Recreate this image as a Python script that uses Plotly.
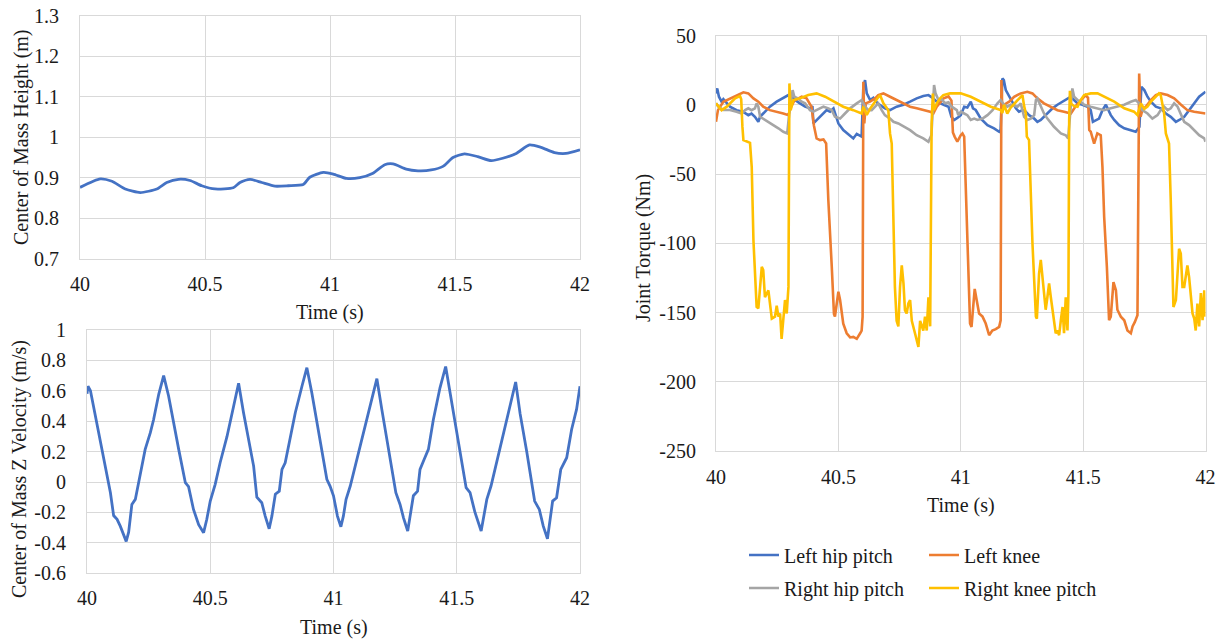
import plotly.graph_objects as go

# ---------------- data ----------------
# centre-of-mass height (m)
com_h_t = [40.0, 40.081, 40.128, 40.181, 40.241, 40.307, 40.347, 40.394, 40.44, 40.487, 40.54,
           40.613, 40.64, 40.68, 40.727, 40.78, 40.833, 40.893, 40.919, 40.973, 41.013, 41.066,
           41.119, 41.172, 41.219, 41.252, 41.305, 41.352, 41.405, 41.452, 41.492, 41.538, 41.591,
           41.645, 41.691, 41.745, 41.798, 41.844, 41.898, 41.944, 42.0]
com_h_v = [0.876, 0.897, 0.891, 0.872, 0.863, 0.872, 0.888, 0.896, 0.893, 0.880, 0.872,
           0.875, 0.888, 0.896, 0.888, 0.879, 0.880, 0.883, 0.901, 0.913, 0.909, 0.898,
           0.900, 0.911, 0.932, 0.934, 0.921, 0.917, 0.919, 0.928, 0.950, 0.959, 0.952,
           0.942, 0.948, 0.960, 0.981, 0.975, 0.962, 0.960, 0.969]

# centre-of-mass vertical velocity (m/s)
com_vz_t = [40.0, 40.004, 40.014, 40.034, 40.054, 40.074, 40.095, 40.108, 40.122, 40.135, 40.159,
            40.169, 40.182, 40.196, 40.216, 40.236, 40.257, 40.27, 40.291, 40.311, 40.331, 40.351,
            40.372, 40.399, 40.412, 40.432, 40.453, 40.473, 40.486, 40.5, 40.52, 40.54, 40.568,
            40.595, 40.615, 40.635, 40.655, 40.676, 40.689, 40.709, 40.723, 40.739, 40.75, 40.764,
            40.78, 40.791, 40.804, 40.824, 40.845, 40.872, 40.892, 40.912, 40.939, 40.973, 40.986,
            41.0, 41.016, 41.03, 41.04, 41.051, 41.068, 41.095, 41.122, 41.149, 41.176, 41.196,
            41.216, 41.236, 41.253, 41.27, 41.284, 41.301, 41.311, 41.324, 41.341, 41.351, 41.368,
            41.385, 41.405, 41.432, 41.455, 41.473, 41.5, 41.52, 41.538, 41.554, 41.574, 41.599,
            41.611, 41.622, 41.639, 41.662, 41.689, 41.716, 41.739, 41.757, 41.784, 41.816, 41.835,
            41.851, 41.868, 41.878, 41.889, 41.905, 41.922, 41.946, 41.966, 41.986, 42.0]
com_vz_v = [0.58, 0.63, 0.60, 0.43, 0.28, 0.105, -0.07, -0.22, -0.245, -0.29, -0.39,
            -0.33, -0.147, -0.114, 0.04, 0.215, 0.325, 0.41, 0.577, 0.70, 0.566, 0.39,
            0.215, -0.004, -0.03, -0.18, -0.28, -0.333, -0.245, -0.125, -0.015, 0.127, 0.30,
            0.50, 0.65, 0.456, 0.28, 0.105, -0.10, -0.136, -0.224, -0.307, -0.224, -0.08,
            -0.06, 0.083, 0.127, 0.29, 0.456, 0.63, 0.752, 0.588, 0.325, 0.018, -0.026,
            -0.09, -0.224, -0.294, -0.224, -0.114, -0.026, 0.15, 0.325, 0.50, 0.68, 0.478,
            0.28, 0.105, -0.07, -0.147, -0.235, -0.322, -0.224, -0.09, -0.06, 0.083, 0.15,
            0.215, 0.41, 0.62, 0.76, 0.588, 0.325, 0.127, -0.037, -0.07, -0.20, -0.322,
            -0.224, -0.114, -0.026, 0.127, 0.30, 0.50, 0.658, 0.45, 0.20, -0.125, -0.18,
            -0.29, -0.373, -0.268, -0.125, -0.103, 0.083, 0.16, 0.346, 0.478, 0.63]

# joint torques (Nm)
lhp_t = [40.0, 40.005, 40.012, 40.023, 40.03, 40.044, 40.057, 40.084, 40.11, 40.132, 40.145, 40.159,
         40.173, 40.18, 40.193, 40.22, 40.248, 40.275, 40.296, 40.31, 40.323, 40.343, 40.364, 40.384,
         40.394, 40.398, 40.411, 40.43, 40.452, 40.466, 40.48, 40.49, 40.5, 40.52, 40.548, 40.561,
         40.575, 40.595, 40.602, 40.609, 40.616, 40.63, 40.643, 40.66, 40.69, 40.711, 40.738, 40.766,
         40.793, 40.82, 40.847, 40.868, 40.885, 40.902, 40.93, 40.95, 40.962, 40.973, 40.986, 41.0,
         41.014, 41.027, 41.041, 41.05, 41.061, 41.082, 41.109, 41.136, 41.157, 41.163, 41.17, 41.176,
         41.184, 41.198, 41.211, 41.225, 41.238, 41.252, 41.265, 41.279, 41.3, 41.313, 41.327, 41.34,
         41.354, 41.375, 41.395, 41.416, 41.436, 41.45, 41.463, 41.477, 41.497, 41.518, 41.531, 41.54,
         41.565, 41.579, 41.593, 41.6, 41.613, 41.627, 41.647, 41.668, 41.695, 41.715, 41.73, 41.738,
         41.75, 41.763, 41.777, 41.797, 41.817, 41.838, 41.858, 41.879, 41.893, 41.913, 41.933, 41.954,
         41.974, 42.0]
lhp_v = [8.2, 11.8, 5.8, 2.2, 4.0, 1.0, -1.4, -3.9, -5.0, -7.5, -6.3, -8.7,
         -12.3, -8.7, -6.3, -1.4, 2.2, 4.6, 7.0, 5.8, 3.4, 1.0, -1.4, -2.6,
         -1.0, -13.5, -11.0, -7.5, -3.9, -5.0, -2.6, -8.0, -13.5, -18.3, -22.0, -24.3,
         -21.0, -23.0, 13.0, 17.8, 8.2, 3.4, 5.0, 1.0, -2.6, -3.9, -1.4, 0.0,
         2.2, 4.6, 6.3, 7.0, 5.0, 2.2, 0.0, -1.4, -8.7, -11.0, -9.5, -7.5,
         -1.4, -2.0, 2.2, -2.6, -3.8, -10.0, -14.7, -17.0, -19.5, -18.0, 19.0, 17.8,
         10.6, 5.8, 2.2, -2.6, -5.0, -3.9, -5.0, -7.5, -10.0, -12.3, -11.0, -8.7,
         -6.3, -2.6, 0.0, 2.2, 4.6, 5.8, 3.4, 1.0, 0.0, -1.4, -3.9, -12.3,
         -10.0, -3.9, 0.0, -2.6, -7.5, -11.0, -14.7, -17.0, -18.3, -19.5, -16.0, 13.0,
         10.6, 5.8, 2.2, -1.4, -2.6, -6.3, -8.7, -12.3, -11.0, -8.7, -3.9, 1.0,
         5.8, 9.4]

lk_t = [40.0, 40.008, 40.03, 40.057, 40.084, 40.112, 40.132, 40.153, 40.173, 40.193, 40.22, 40.248,
        40.275, 40.296, 40.305, 40.32, 40.35, 40.37, 40.39, 40.4, 40.411, 40.425, 40.439, 40.45,
        40.459, 40.473, 40.482, 40.486, 40.5, 40.507, 40.52, 40.534, 40.548, 40.561, 40.575, 40.589,
        40.595, 40.599, 40.602, 40.606, 40.612, 40.629, 40.65, 40.663, 40.684, 40.711, 40.738, 40.766,
        40.793, 40.82, 40.847, 40.875, 40.888, 40.902, 40.93, 40.95, 40.962, 40.968, 40.975, 40.986,
        41.0, 41.007, 41.014, 41.02, 41.027, 41.034, 41.038, 41.044, 41.052, 41.057, 41.065, 41.075,
        41.089, 41.102, 41.116, 41.129, 41.143, 41.157, 41.163, 41.166, 41.17, 41.177, 41.198, 41.218,
        41.245, 41.272, 41.293, 41.313, 41.34, 41.368, 41.395, 41.422, 41.45, 41.47, 41.49, 41.51,
        41.52, 41.525, 41.531, 41.545, 41.558, 41.572, 41.579, 41.586, 41.597, 41.606, 41.613, 41.624,
        41.634, 41.64, 41.654, 41.668, 41.681, 41.695, 41.702, 41.711, 41.722, 41.729, 41.735, 41.742,
        41.756, 41.777, 41.797, 41.817, 41.845, 41.872, 41.9, 41.926, 41.954, 41.981, 42.0]
lk_v = [-12.3, -3.9, 2.2, 4.6, 7.0, 9.0, 8.2, 4.6, 2.2, -1.4, -3.9, -5.0,
        -6.3, -7.5, -2.0, 3.0, 5.8, 4.6, -1.4, -15.0, -24.3, -25.5, -25.0, -28.0,
        -69.0, -117.0, -151.0, -153.0, -135.0, -141.0, -158.0, -165.0, -168.0, -167.6, -169.0, -165.0,
        -163.0, -153.0, 16.6, -13.5, 1.0, 2.2, 4.6, 7.0, 8.2, 5.8, 3.4, 1.0,
        -1.4, -2.6, -3.8, -5.0, -6.3, -1.4, 4.6, 6.0, 3.0, -20.0, -23.0, -26.7,
        -22.0, -20.7, -23.0, -57.0, -93.0, -136.0, -158.0, -160.4, -141.0, -133.0, -141.0, -150.7,
        -153.0, -158.0, -166.4, -163.0, -162.0, -160.4, -155.6, 17.9, -3.9, 0.0, 2.2, 5.8,
        8.2, 9.4, 8.2, 4.6, 1.0, -1.4, -3.9, -5.0, -6.3, -1.0, 3.4, 7.0,
        5.0, -18.3, -19.5, -28.0, -20.7, -22.0, -45.0, -81.0, -117.0, -155.6, -153.0, -128.0,
        -134.0, -148.0, -153.0, -155.6, -163.0, -165.0, -160.0, -157.0, -152.0, 22.6, -8.7, -3.9,
        -1.4, 3.4, 7.0, 8.2, 7.0, 4.6, 0.0, -3.9, -5.0, -5.8, -6.3]

rhp_t = [40.0, 40.01, 40.03, 40.057, 40.084, 40.105, 40.119, 40.132, 40.145, 40.159, 40.166, 40.173,
         40.18, 40.193, 40.214, 40.234, 40.255, 40.275, 40.291, 40.3, 40.313, 40.32, 40.334, 40.35,
         40.364, 40.384, 40.398, 40.411, 40.439, 40.459, 40.473, 40.486, 40.507, 40.527, 40.548, 40.575,
         40.595, 40.609, 40.623, 40.636, 40.65, 40.663, 40.677, 40.69, 40.711, 40.725, 40.745, 40.772,
         40.793, 40.82, 40.847, 40.868, 40.88, 40.891, 40.897, 40.909, 40.922, 40.936, 40.95, 40.963,
         40.984, 40.99, 41.0, 41.014, 41.027, 41.041, 41.055, 41.068, 41.089, 41.109, 41.13, 41.15,
         41.163, 41.177, 41.19, 41.204, 41.232, 41.245, 41.259, 41.272, 41.286, 41.3, 41.307, 41.313,
         41.327, 41.34, 41.354, 41.368, 41.381, 41.395, 41.409, 41.429, 41.439, 41.45, 41.456, 41.463,
         41.477, 41.49, 41.504, 41.531, 41.559, 41.586, 41.613, 41.64, 41.668, 41.695, 41.715, 41.729,
         41.742, 41.763, 41.783, 41.804, 41.817, 41.831, 41.845, 41.858, 41.872, 41.886, 41.9, 41.913,
         41.933, 41.954, 41.974, 41.995, 42.0]
rhp_v = [1.0, -1.4, -3.8, -3.8, -5.0, -6.3, -3.9, -2.6, -3.9, -2.6, 1.0, -1.4,
         -8.7, -10.0, -12.3, -14.7, -17.0, -19.5, -20.7, -5.0, 10.6, 5.8, 4.6, 2.2,
         1.0, -3.9, -5.0, -3.9, -1.4, -2.6, -3.9, -8.7, -10.0, -6.3, -2.6, 1.0,
         3.4, -1.4, -3.9, -3.9, -1.4, 1.0, -3.9, -7.5, -10.0, -12.3, -13.5, -15.9,
         -18.3, -22.0, -24.3, -26.7, -22.0, 14.2, 8.2, 3.4, 4.0, 1.0, 1.8, -1.4,
         -3.9, -7.5, -5.0, -6.3, -7.5, -11.0, -10.0, -11.0, -10.0, -7.5, -3.9, 1.0,
         3.4, 0.0, -1.4, 0.0, -1.4, 1.0, -8.7, -11.0, -10.0, -7.5, 3.4, 4.6,
         -1.4, -6.3, -10.0, -13.5, -15.9, -18.3, -20.7, -22.0, -24.3, 0.0, 11.8, 5.8,
         3.4, 2.2, 0.0, -1.4, -2.6, -3.9, -2.6, -1.4, 0.0, 2.2, 3.4, 1.0,
         -3.9, -6.3, -10.0, -7.5, -3.9, -1.4, -3.9, -2.6, 1.0, -1.4, -7.5, -12.3,
         -14.7, -18.3, -22.0, -24.3, -26.7]

rk_t = [40.0, 40.01, 40.023, 40.044, 40.057, 40.078, 40.098, 40.103, 40.108, 40.112, 40.139, 40.146,
        40.153, 40.166, 40.173, 40.187, 40.193, 40.2, 40.214, 40.228, 40.241, 40.248, 40.255, 40.262,
        40.268, 40.275, 40.282, 40.289, 40.296, 40.3, 40.305, 40.316, 40.343, 40.377, 40.411, 40.446,
        40.48, 40.52, 40.561, 40.595, 40.602, 40.616, 40.629, 40.643, 40.657, 40.67, 40.684, 40.704,
        40.711, 40.718, 40.725, 40.731, 40.738, 40.745, 40.752, 40.759, 40.766, 40.772, 40.779, 40.786,
        40.793, 40.8, 40.813, 40.82, 40.827, 40.834, 40.847, 40.854, 40.861, 40.868, 40.875, 40.881,
        40.886, 40.89, 40.902, 40.916, 40.929, 40.956, 41.0, 41.041, 41.082, 41.123, 41.163, 41.17,
        41.177, 41.19, 41.204, 41.232, 41.245, 41.252, 41.259, 41.266, 41.27, 41.279, 41.293, 41.307,
        41.311, 41.32, 41.327, 41.334, 41.347, 41.354, 41.361, 41.368, 41.381, 41.388, 41.395, 41.402,
        41.409, 41.416, 41.422, 41.429, 41.436, 41.44, 41.443, 41.446, 41.45, 41.463, 41.477, 41.49,
        41.504, 41.531, 41.559, 41.586, 41.627, 41.668, 41.708, 41.722, 41.736, 41.75, 41.763, 41.777,
        41.797, 41.81, 41.817, 41.831, 41.838, 41.851, 41.858, 41.869, 41.879, 41.892, 41.899, 41.906,
        41.913, 41.926, 41.933, 41.94, 41.947, 41.954, 41.96, 41.967, 41.974, 41.981, 41.988, 41.995,
        42.0]
rk_v = [1.0, -1.4, -3.9, -1.4, 1.0, 4.6, 6.3, 3.9, -16.0, -25.5, -27.5, -45.0,
        -98.0, -146.0, -147.0, -117.0, -119.4, -139.0, -134.0, -154.4, -153.0, -145.0, -153.0, -150.7,
        -169.0, -153.0, -141.0, -150.7, -131.5, 15.4, -3.9, 3.4, 4.6, 7.0, 8.2, 5.8,
        2.2, -1.4, -3.9, -6.3, -1.4, -7.4, -3.0, 1.0, 4.0, 7.0, 1.0, -3.9,
        -20.7, -28.0, -100.0, -131.5, -156.0, -160.0, -131.5, -116.0, -129.0, -148.3, -150.7, -143.5,
        -141.0, -156.0, -165.0, -170.0, -174.8, -156.0, -163.0, -153.0, -163.0, -139.0, -160.0, -13.5,
        8.0, -3.9, 1.0, 4.6, 7.0, 8.2, 8.2, 5.8, 2.2, -1.4, -3.8, -6.0,
        0.0, -6.3, -2.0, 3.4, 5.8, 7.0, -1.0, -6.3, -23.0, -25.5, -100.0, -153.0,
        -154.4, -122.0, -112.0, -126.7, -148.0, -139.0, -129.0, -139.0, -155.6, -165.0, -163.0, -166.4,
        -155.6, -146.0, -165.0, -139.0, -163.0, -136.0, -11.0, 10.0, 1.0, -1.0, -1.4, 3.4,
        7.0, 8.2, 8.2, 5.8, 2.2, -2.6, -5.0, -7.5, 1.0, -3.0, -1.4, 2.2,
        5.8, 8.2, 7.0, -6.3, -20.7, -28.0, -69.0, -146.0, -141.0, -104.0, -107.4, -131.5,
        -131.5, -116.0, -124.4, -136.0, -150.7, -154.4, -163.0, -143.5, -160.0, -136.0, -155.6, -134.0,
        -153.0]

# axis ticks
time_ticks = [40, 40.5, 41, 41.5, 42]
time_labels = ["40", "40.5", "41", "41.5", "42"]
h_ticks = [0.7, 0.8, 0.9, 1.0, 1.1, 1.2, 1.3]
h_labels = ["0.7", "0.8", "0.9", "1", "1.1", "1.2", "1.3"]
vz_ticks = [-0.6, -0.4, -0.2, 0, 0.2, 0.4, 0.6, 0.8, 1.0]
vz_labels = ["-0.6", "-0.4", "-0.2", "0", "0.2", "0.4", "0.6", "0.8", "1"]
tq_ticks = [-250, -200, -150, -100, -50, 0, 50]
tq_labels = ["-250", "-200", "-150", "-100", "-50", "0", "50"]

# ---------------- styling ----------------
W, H = 1225, 643
FONT = "Liberation Serif"
TXT = "#1a1a1a"
GRID = "#d9d9d9"
BLUE, ORANGE, GRAY, YELLOW = "#4472C4", "#ED7D31", "#A5A5A5", "#FFC000"


def px_x(x):
    return x / W


def px_y(y):
    return 1 - y / H


fig = go.Figure()

fig.add_trace(go.Scatter(x=com_h_t, y=com_h_v, mode="lines",
                         line=dict(color=BLUE, width=2.8, shape="spline", smoothing=0.6),
                         xaxis="x", yaxis="y", showlegend=False))
fig.add_trace(go.Scatter(x=com_vz_t, y=com_vz_v, mode="lines", line=dict(color=BLUE, width=2.8),
                         xaxis="x2", yaxis="y2", showlegend=False))

torque_series = [
    ("Left hip pitch", lhp_t, lhp_v, BLUE, "legend"),
    ("Left knee", lk_t, lk_v, ORANGE, "legend2"),
    ("Right hip pitch", rhp_t, rhp_v, GRAY, "legend3"),
    ("Right knee pitch", rk_t, rk_v, YELLOW, "legend4"),
]
for name, t, v, c, lg in torque_series:
    fig.add_trace(go.Scatter(x=t, y=v, mode="lines", name=name, line=dict(color=c, width=2.6),
                             xaxis="x3", yaxis="y3", legend=lg))


def xaxis(domain, anchor, ticklen):
    return dict(domain=domain, anchor=anchor, range=[40, 42], tickvals=time_ticks, ticktext=time_labels,
                showgrid=True, gridcolor=GRID, gridwidth=1, zeroline=False, automargin=False,
                showline=True, linecolor=GRID, linewidth=1, mirror=True,
                ticks="outside", ticklen=ticklen, tickcolor="rgba(0,0,0,0)",
                tickfont=dict(family=FONT, size=20, color=TXT), fixedrange=True)


def yaxis(domain, anchor, rng, vals, labels, ticklen):
    return dict(domain=domain, anchor=anchor, range=rng, tickvals=vals, ticktext=labels,
                showgrid=True, gridcolor=GRID, gridwidth=1, zeroline=False, automargin=False,
                showline=True, linecolor=GRID, linewidth=1, mirror=True,
                ticks="outside", ticklen=ticklen, tickcolor="rgba(0,0,0,0)",
                tickfont=dict(family=FONT, size=20, color=TXT), fixedrange=True)


legend_common = dict(font=dict(family=FONT, size=20, color=TXT), bgcolor="rgba(0,0,0,0)",
                     xanchor="left", yanchor="middle", itemwidth=30, tracegroupgap=0)

fig.update_layout(
    template="none",
    width=W, height=H, margin=dict(l=0, r=0, t=0, b=0, autoexpand=False),
    paper_bgcolor="white", plot_bgcolor="white",
    font=dict(family=FONT, size=20, color=TXT),
    xaxis=xaxis([px_x(80), px_x(580)], "y", 7),
    yaxis=yaxis([px_y(258.5), px_y(16)], "x", [0.7, 1.3], h_ticks, h_labels, 16),
    xaxis2=xaxis([px_x(87), px_x(580)], "y2", 7),
    yaxis2=yaxis([px_y(573.3), px_y(330)], "x2", [-0.6, 1.0], vz_ticks, vz_labels, 16),
    xaxis3=xaxis([px_x(716), px_x(1205.5)], "y3", 8),
    yaxis3=yaxis([px_y(451), px_y(35.5)], "x3", [-250, 50], tq_ticks, tq_labels, 15),
    legend=dict(x=px_x(744), y=px_y(555), **legend_common),
    legend2=dict(x=px_x(924), y=px_y(555), **legend_common),
    legend3=dict(x=px_x(744), y=px_y(588), **legend_common),
    legend4=dict(x=px_x(924), y=px_y(588), **legend_common),
)

titles = [
    ("Time (s)", 330, 312, 0),
    ("Time (s)", 334, 627, 0),
    ("Time (s)", 961, 505, 0),
    ("Center of Mass Height (m)", 21, 137, -90),
    ("Center of Mass Z Velocity (m/s)", 19, 469, -90),
    ("Joint Torque (Nm)", 643, 248, -90),
]
for text, x, y, ang in titles:
    fig.add_annotation(text=text, x=px_x(x), y=px_y(y), xref="paper", yref="paper",
                       xanchor="center", yanchor="middle", showarrow=False, textangle=ang,
                       font=dict(family=FONT, size=20, color=TXT))

fig.write_html("out.html")
